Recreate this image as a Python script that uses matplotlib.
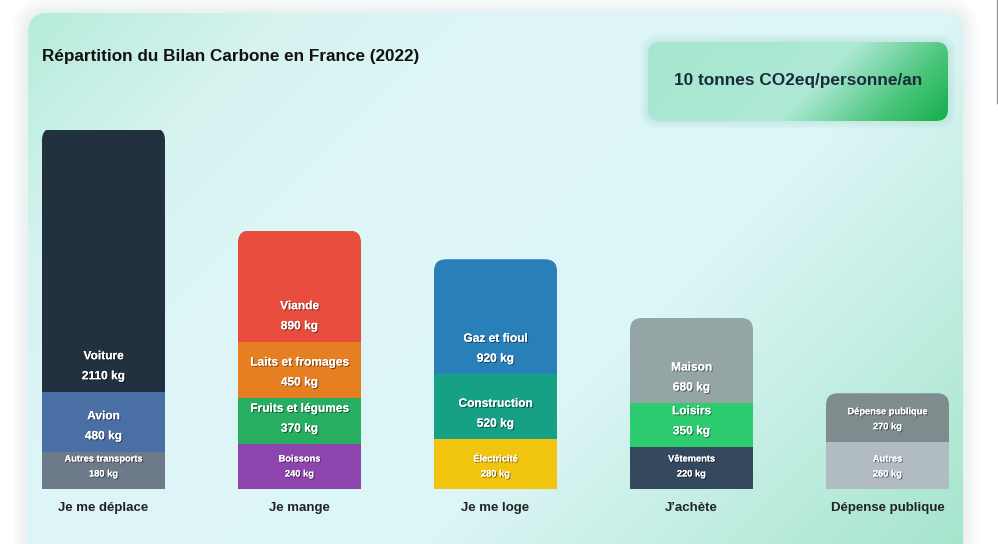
import numpy as np
import matplotlib.pyplot as plt
import matplotlib.patheffects as pe
from matplotlib.patches import FancyBboxPatch
from matplotlib.colors import LinearSegmentedColormap

plt.rcParams['font.family'] = ['Liberation Sans', 'DejaVu Sans']

# data (each group listed top -> bottom as shown in the bar)
categories = ["Je me déplace", "Je mange", "Je me loge", "J’achète", "Dépense publique"]

deplace_names = ["Voiture", "Avion", "Autres transports"]
deplace_kg = [2110, 480, 180]
mange_names = ["Viande", "Laits et fromages", "Fruits et légumes", "Boissons"]
mange_kg = [890, 450, 370, 240]
loge_names = ["Gaz et fioul", "Construction", "Électricité"]
loge_kg = [920, 520, 280]
achete_names = ["Maison", "Loisirs", "Vêtements"]
achete_kg = [680, 350, 220]
public_names = ["Dépense publique", "Autres"]
public_kg = [270, 260]

title = "Répartition du Bilan Carbone en France (2022)"
badge = "10 tonnes CO2eq/personne/an"

# colours
deplace_colors = ["#22313f", "#4a6fa5", "#6c7a89"]
mange_colors = ["#e74c3c", "#e67e22", "#27ae60", "#8e44ad"]
loge_colors = ["#2980b9", "#16a085", "#f1c40f"]
achete_colors = ["#95a5a6", "#2ecc71", "#34495e"]
public_colors = ["#7f8c8d", "#b0bcc2"]

groups = [
    (deplace_names, deplace_kg, deplace_colors),
    (mange_names, mange_kg, mange_colors),
    (loge_names, loge_kg, loge_colors),
    (achete_names, achete_kg, achete_colors),
    (public_names, public_kg, public_colors),
]

W, H = 998, 544
fig = plt.figure(figsize=(W / 100, H / 100), dpi=100)
fig.patch.set_facecolor('white')

# background layer in pixel coordinates
bg = fig.add_axes([0, 0, 1, 1])
bg.axis('off')


def gradient_box(x0, y0, w, h, r, stops, z):
    yy, xx = np.mgrid[y0:y0 + h:1.0, x0:x0 + w:1.0]
    t = ((xx - x0) + (yy - y0)) / (w + h)
    cmap = LinearSegmentedColormap.from_list('g', stops)
    im = bg.imshow(t, cmap=cmap, vmin=0, vmax=1, extent=(x0, x0 + w, y0 + h, y0),
                   zorder=z, aspect='auto', interpolation='bilinear')
    clip = FancyBboxPatch((x0, y0), w, h, boxstyle=f"round,pad=0,rounding_size={r}",
                          transform=bg.transData, facecolor='none', edgecolor='none')
    bg.add_patch(clip)
    im.set_clip_path(clip)


# card shadow
for k in range(1, 8):
    bg.add_patch(FancyBboxPatch((28, 13), 935, 560,
                                boxstyle=f"round,pad={k * 2.2},rounding_size={20 + k * 2}",
                                facecolor='#6fae98', edgecolor='none', alpha=0.018, zorder=1))
gradient_box(28, 13, 935, 560, 20,
             [(0, '#b6ecda'), (0.17, '#d6f3f0'), (0.33, '#def6f8'),
              (0.62, '#dcf5f6'), (1.0, '#a3e4ca')], 2)

# badge
for k in range(1, 5):
    bg.add_patch(FancyBboxPatch((648, 42), 300, 79,
                                boxstyle=f"round,pad={k * 2},rounding_size={12 + k * 2}",
                                facecolor='#3fae7a', edgecolor='none', alpha=0.03, zorder=3))
gradient_box(648, 42, 300, 79, 12,
             [(0, '#a6e6cf'), (0.55, '#aee9d5'), (0.8, '#4dc67e'), (1.0, '#12ad48')], 4)
bg.text(798, 81, badge, ha='center', va='center', fontsize=12.4, fontweight='bold',
        color='#1c2b3a', zorder=5)

bg.text(42, 56, title, ha='left', va='center', fontsize=12.3, fontweight='bold',
        color='#111111', zorder=5)

bg.plot([997.5, 997.5], [0, 103], color='#9a9a9a', lw=1, zorder=5)
bg.set_xlim(0, W)
bg.set_ylim(H, 0)

# bars
px_per_kg = 0.125
ax = fig.add_axes([5.5 / W, 55 / H, 980 / W, 359 / H])
ax.set_xlim(-0.5, 4.5)
ax.set_ylim(0, 359 / px_per_kg)
ax.axis('off')

bw = 123 / 196
rad_x = 12 / 196
rad_aspect = (12 / px_per_kg) / rad_x
shadow = [pe.withSimplePatchShadow(offset=(0.8, -0.8), shadow_rgbFace='black', alpha=0.45), pe.Normal()]

for i, (names, kg, cols) in enumerate(groups):
    # small blocks get extra padding (like the original layout)
    shown = [v if v >= 300 else v + 118 for v in kg]
    total = sum(shown)
    clip = FancyBboxPatch((i - bw / 2, -400), bw, total + 400,
                          boxstyle=f"round,pad=0,rounding_size={rad_x}",
                          mutation_aspect=rad_aspect, transform=ax.transData)
    bottom = 0
    for name, v, h, c in zip(names[::-1], kg[::-1], shown[::-1], cols[::-1]):
        bars = ax.bar(i, h, bottom=bottom, width=bw, color=c, linewidth=0, zorder=3)
        for b in bars:
            b.set_clip_path(clip)
        small = v < 300
        fs = 6.7 if small else 8.6
        ax.annotate(f"{v} kg", (i, bottom), xytext=(0, 15 if small else 15.5),
                    textcoords='offset pixels', ha='center', va='center', fontsize=fs,
                    fontweight='bold', color='white', path_effects=shadow, zorder=5,
                    annotation_clip=False)
        ax.annotate(name, (i, bottom), xytext=(0, 30 if small else 35.5),
                    textcoords='offset pixels', ha='center', va='center', fontsize=fs,
                    fontweight='bold', color='white', path_effects=shadow, zorder=5,
                    annotation_clip=False)
        bottom += h
    ax.annotate(categories[i], (i, 0), xytext=(0, -19), textcoords='offset pixels',
                ha='center', va='center', fontsize=9.5, fontweight='bold', color='#222222',
                annotation_clip=False)

fig.savefig('out.png', dpi=100)
